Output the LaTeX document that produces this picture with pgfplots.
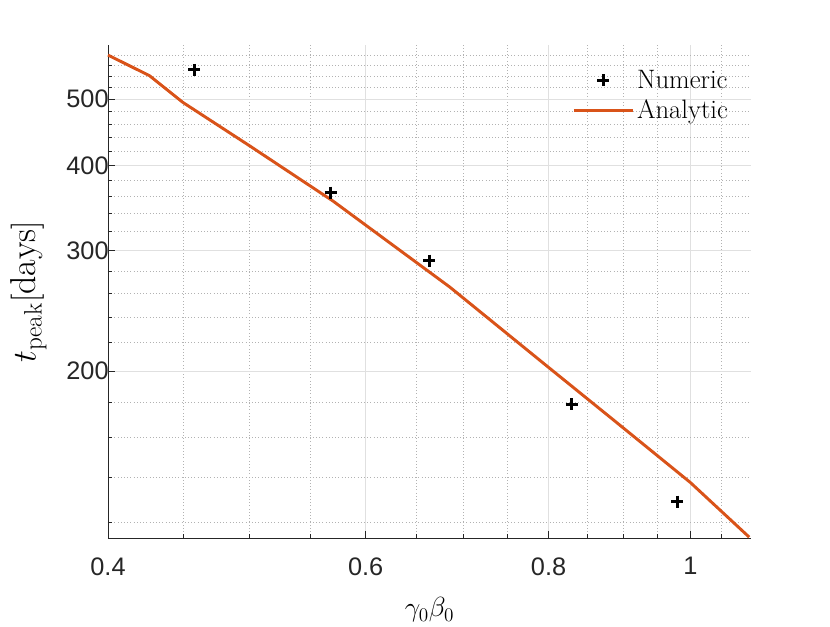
\documentclass[border=0pt]{standalone}
\usepackage{fontspec}
\setsansfont{Liberation Sans}
\usepackage{pgfplots}
\pgfplotsset{compat=1.18}
\definecolor{mlorange}{rgb}{0.85,0.325,0.098}
\definecolor{axgray}{rgb}{0.15,0.15,0.15}
\pgfplotsset{
  legmark/.style={legend image code/.code={\draw[mark repeat=2,mark phase=2,##1] plot coordinates {(0cm,0cm) (0.78cm,0cm) (1.56cm,0cm)};}},
  legline/.style={legend image code/.code={\draw[##1] (0cm,0cm) -- (1.56cm,0cm);}},
}
\begin{document}
\begin{tikzpicture}
\begin{axis}[
  scale only axis,
  width=482.25pt, height=369.75pt,
  xmode=log, ymode=log,
  xmin=0.4, xmax=1.1, ymin=114, ymax=600,
  axis lines*=left,
  axis line style={axgray, line width=0.6pt},
  xtick={0.4,0.6,0.8,1}, xticklabels={0.4,0.6,0.8,1},
  minor xtick={0.45,0.5,0.55,0.65,0.7,0.75,0.85,0.9,0.95,1.05},
  ytick={200,300,400,500}, yticklabels={200,300,400,500},
  minor ytick={120,140,160,180,220,240,260,280,320,340,360,380,420,440,460,480,520,540,560,580},
  tick align=inside,
  major tick length=5pt, minor tick length=2.7pt,
  tick style={axgray, line width=0.5pt},
  grid=both,
  major grid style={solid, black!12, line width=0.5pt},
  minor grid style={dotted, black!30, line width=0.5pt},
  ticklabel style={font=\sffamily\fontsize{19}{22}\selectfont, text=axgray},
  xticklabel style={yshift=-11pt},
  yticklabel style={xshift=4pt},
  xlabel={$\gamma_0\beta_0$},
  ylabel={$t_{\mathrm{peak}}[\mathrm{days}]$},
  xlabel style={font=\fontsize{21.5}{25}\selectfont, yshift=-10pt},
  ylabel style={font=\fontsize{27}{31}\selectfont, yshift=8pt},
  legend style={draw=none, fill=none, at={(0.975,0.96)}, anchor=north east,
    font=\fontsize{20}{23}\selectfont, row sep=3pt},
  legend cell align=left,
  clip=false,
]
\addplot[only marks, mark=+, mark size=4.5pt, line width=2.2pt, black, legmark]
coordinates {(0.4581,551.6) (0.5679,364.8) (0.6632,290.1) (0.8296,178.9) (0.9793,128.8)};
\addlegendentry{Numeric}
\addplot[mlorange, line width=2.2pt, no marks, legline]
coordinates {(0.4,580) (0.427,541) (0.450,494.5) (0.500,427) (0.570,354.6) (0.685,265.4) (0.8,202.5) (0.885,170) (1.0,137.4) (1.097,114.3)};
\addlegendentry{Analytic}
\end{axis}
\path ([xshift=-81pt,yshift=-63.75pt]current axis.south west) rectangle ([xshift=59.25pt,yshift=33.75pt]current axis.north east);
\end{tikzpicture}
\end{document}
